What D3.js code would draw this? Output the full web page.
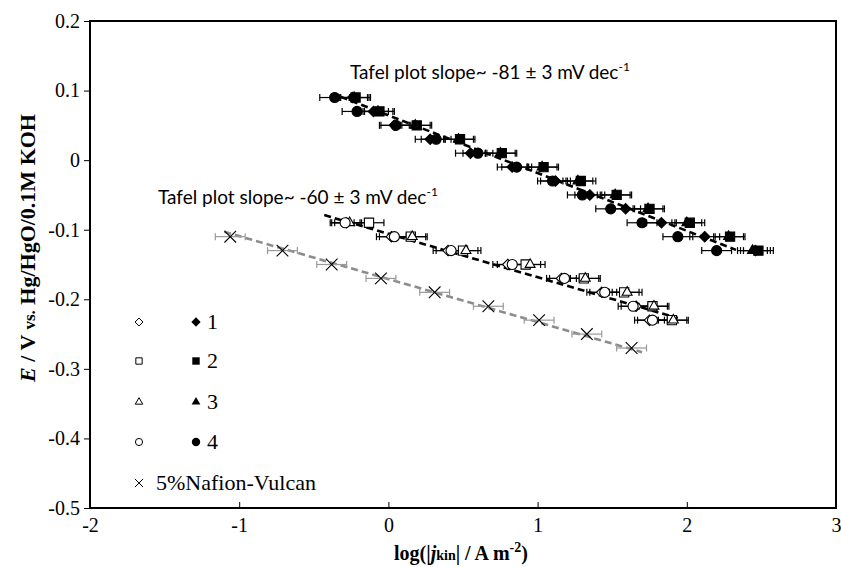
<!DOCTYPE html>
<html><head><meta charset="utf-8">
<script src="https://cdn.jsdelivr.net/npm/d3@7"></script>
<style>body{margin:0;background:#fff}svg{display:block}</style>
</head><body>
<svg id="c" width="841" height="567"></svg>
<script>
// ---------- data ----------
const xTicks = [-2,-1,0,1,2,3];
const yTicks = [0.2,0.1,0,-0.1,-0.2,-0.3,-0.4,-0.5];
const xTickLabels = ["-2","-1","0","1","2","3"];
const yTickLabels = ["0.2","0.1","0","-0.1","-0.2","-0.3","-0.4","-0.5"];

// upper (filled symbols) – potentials
const eUpper = [0.09,0.07,0.05,0.03,0.01,-0.01,-0.03,-0.05,-0.07,-0.09,-0.11,-0.13];
const s1Filled = [-0.24,-0.10,0.04,0.28,0.55,0.83,1.12,1.35,1.59,1.83,2.12,2.46];
const s2Filled = [-0.22,-0.06,0.19,0.48,0.76,1.04,1.29,1.53,1.75,2.02,2.29,2.48];
const s3Filled = [-0.23,-0.07,0.18,0.47,0.75,1.03,1.27,1.52,1.74,2.00,2.28,2.44];
const s4Filled = [-0.36,-0.21,0.05,0.32,0.60,0.86,1.10,1.30,1.49,1.70,1.94,2.20];

// lower (open symbols)
const eLower = [-0.09,-0.11,-0.13,-0.15,-0.17,-0.19,-0.21,-0.23];
const s1Open = [-0.28,0.02,0.40,0.80,1.16,1.43,1.66,1.75];
const s2Open = [-0.13,0.15,0.50,0.92,1.31,1.58,1.77,1.90];
const s3Open = [-0.26,0.16,0.52,0.95,1.32,1.60,1.78,1.91];
const s4Open = [-0.29,0.04,0.42,0.83,1.18,1.45,1.64,1.77];

// 5% Nafion-Vulcan
const eNafion = [-0.11,-0.13,-0.15,-0.17,-0.19,-0.21,-0.23,-0.25,-0.27];
const xNafion = [-1.06,-0.71,-0.38,-0.05,0.31,0.67,1.01,1.33,1.63];

const errX = 0.1;

// fitted Tafel lines (endpoints)
const fitUpperX = [-0.32, 2.33], fitUpperY = [0.091, -0.129];
const fitLowerX = [-0.43, 1.94], fitLowerY = [-0.079, -0.227];
const fitNafionX = [-1.10, 1.70], fitNafionY = [-0.103, -0.276];

const legendLabels = ["1","2","3","4","5%Nafion-Vulcan"];

// ---------- drawing ----------
const svg = d3.select("#c");
const L=90, R=836, T=21, B=508;
const x = d3.scaleLinear().domain([-2,3]).range([L,R]);
const y = d3.scaleLinear().domain([-0.5,0.2]).range([B,T]);
const serif = "'Liberation Serif','Times New Roman',serif";

// axes
const yAxis = d3.axisLeft(y).tickValues(yTicks).tickSize(6).tickPadding(4)
  .tickFormat((d,i)=>yTickLabels[i]);
const gy = svg.append("g").attr("transform",`translate(${L},0)`).call(yAxis)
  .attr("font-family",serif).attr("font-size",20);
gy.select(".domain").remove();
gy.selectAll("text").style("font-family",serif).style("font-size","20px").attr("fill","#000");
gy.selectAll("line").attr("stroke","#000");

const xAxis = d3.axisBottom(x).tickValues(xTicks).tickSizeInner(-6).tickSizeOuter(0).tickPadding(10)
  .tickFormat((d,i)=>xTickLabels[i]);
const gx = svg.append("g").attr("transform",`translate(0,${B})`).call(xAxis)
  .attr("font-family",serif).attr("font-size",20);
gx.select(".domain").remove();
gx.selectAll("text").style("font-family",serif).style("font-size","20px").attr("fill","#000");
gx.selectAll("line").attr("stroke","#000");

svg.append("rect").attr("x",L).attr("y",T).attr("width",R-L).attr("height",B-T)
  .attr("fill","none").attr("stroke","#000").attr("stroke-width",2);

// fit lines
function fit(xs,ys,color){
  svg.append("line").attr("x1",x(xs[0])).attr("y1",y(ys[0])).attr("x2",x(xs[1])).attr("y2",y(ys[1]))
   .attr("stroke",color).attr("stroke-width",2.6).attr("stroke-dasharray","7,4");
}
fit(fitNafionX,fitNafionY,"#8c8c8c");
fit(fitLowerX,fitLowerY,"#000");
fit(fitUpperX,fitUpperY,"#000");

// error bars
function errbars(xs,es,color){
  const g = svg.append("g").attr("stroke",color).attr("stroke-width",1.2);
  xs.forEach((v,i)=>{
    const yy=y(es[i]), x0=x(v-errX), x1=x(v+errX);
    g.append("line").attr("x1",x0).attr("x2",x1).attr("y1",yy).attr("y2",yy);
    g.append("line").attr("x1",x0).attr("x2",x0).attr("y1",yy-3.5).attr("y2",yy+3.5);
    g.append("line").attr("x1",x1).attr("x2",x1).attr("y1",yy-3.5).attr("y2",yy+3.5);
  });
}
const sym = {
  diamond: d3.symbol().type(d3.symbolDiamond2).size(70),
  square: d3.symbol().type(d3.symbolSquare).size(85),
  triangle: d3.symbol().type(d3.symbolTriangle2).size(70),
  circle: d3.symbol().type(d3.symbolCircle).size(80),
  cross: d3.symbol().type(d3.symbolX).size(90)
};
function marks(xs,es,shape,filled){
  svg.append("g").selectAll("path").data(xs).join("path")
    .attr("transform",(d,i)=>`translate(${x(d)},${y(es[i])})`)
    .attr("d",sym[shape])
    .attr("fill",filled?"#000":"#fff").attr("stroke","#000").attr("stroke-width",1.1);
}

errbars(xNafion,eNafion,"#9a9a9a");
[s1Open,s2Open,s3Open,s4Open].forEach(a=>errbars(a,eLower,"#000"));
[s1Filled,s2Filled,s3Filled,s4Filled].forEach(a=>errbars(a,eUpper,"#000"));

svg.append("g").selectAll("path").data(xNafion).join("path")
  .attr("transform",(d,i)=>`translate(${x(d)},${y(eNafion[i])})`)
  .attr("d",sym.cross).attr("fill","none").attr("stroke","#000").attr("stroke-width",1.1);

marks(s1Open,eLower,"diamond",false);
marks(s2Open,eLower,"square",false);
marks(s3Open,eLower,"triangle",false);
marks(s4Open,eLower,"circle",false);
marks(s1Filled,eUpper,"diamond",true);
marks(s2Filled,eUpper,"square",true);
marks(s3Filled,eUpper,"triangle",true);
marks(s4Filled,eUpper,"circle",true);

// annotations
const sans = "Lato,'Open Sans',sans-serif";
function tafel(tx,ty,val){
  const t = svg.append("text").attr("x",tx).attr("y",ty).style("font-family",sans).style("font-size","19px");
  t.append("tspan").text(`Tafel plot slope~ ${val} ± 3 mV dec`);
  t.append("tspan").attr("dy",-8).style("font-size","12px").text("-1");
}
tafel(350,79,"-81");
tafel(158,204,"-60");

// legend
const legY = [322,361,402,442,483];
const openShapes = [d3.symbolDiamond2,d3.symbolSquare,d3.symbolTriangle2,d3.symbolCircle];
openShapes.forEach((shp,i)=>{
  svg.append("path").attr("transform",`translate(139,${legY[i]})`)
    .attr("d",d3.symbol().type(shp).size(40)).attr("fill","#fff").attr("stroke","#000").attr("stroke-width",1);
  svg.append("path").attr("transform",`translate(196,${legY[i]})`)
    .attr("d",d3.symbol().type(shp).size(55)).attr("fill","#000");
  svg.append("text").attr("x",207).attr("y",legY[i]+7).style("font-family",serif).style("font-size","22px").text(legendLabels[i]);
});
svg.append("path").attr("transform",`translate(139,${legY[4]})`)
  .attr("d",d3.symbol().type(d3.symbolX).size(45)).attr("fill","none").attr("stroke","#000").attr("stroke-width",1);
svg.append("text").attr("x",156).attr("y",legY[4]+7).style("font-family",serif).style("font-size","22px").text(legendLabels[4]);

// axis titles
const xt = svg.append("text").attr("x",461).attr("y",560).attr("text-anchor","middle")
  .style("font-family",serif).style("font-size","20px").style("font-weight","bold");
xt.append("tspan").text("log(|");
xt.append("tspan").style("font-style","italic").text("j");
xt.append("tspan").style("font-size","14px").text("kin");
xt.append("tspan").text("| / A m");
xt.append("tspan").attr("dy",-8).style("font-size","14px").text("-2");
xt.append("tspan").attr("dy",8).text(")");

const yt = svg.append("text").attr("transform","translate(35,248) rotate(-90)").attr("text-anchor","middle")
  .style("font-family",serif).style("font-size","22px").style("font-weight","bold");
yt.append("tspan").style("font-style","italic").text("E");
yt.append("tspan").text(" / V ");
yt.append("tspan").style("font-size","17px").text("vs.");
yt.append("tspan").text(" Hg/HgO/0.1M KOH");
</script>
</body></html>
